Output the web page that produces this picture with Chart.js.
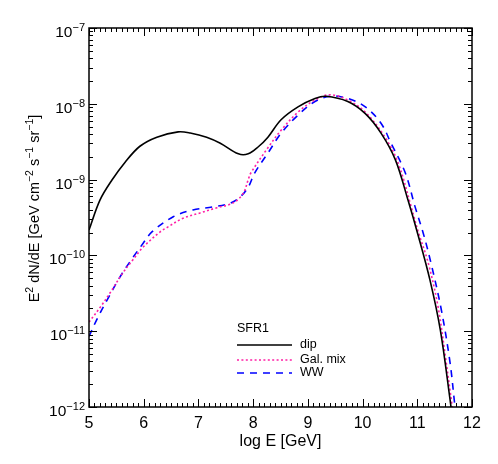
<!DOCTYPE html>
<html><head><meta charset="utf-8">
<script src="https://cdn.jsdelivr.net/npm/chart.js@4"></script>
<style>html,body{margin:0;padding:0;background:#fff}canvas{display:block}</style>
</head><body>
<canvas id="c" width="498" height="464"></canvas>
<script>
const dipX = [5.0,5.2,5.42,5.66,5.93,6.24,6.63,6.85,7.15,7.4,7.73,7.91,8.09,8.27,8.51,8.82,9.13,9.33,9.73,10.05,10.34,10.6,10.83,11.01,11.23,11.42,11.6,11.65];
const dipLog = [-9.665,-9.27,-9.005,-8.77,-8.56,-8.44,-8.37,-8.385,-8.44,-8.52,-8.66,-8.66,-8.57,-8.44,-8.21,-8.04,-7.93,-7.90,-7.97,-8.13,-8.39,-8.74,-9.27,-9.72,-10.32,-10.98,-11.91,-12.2];
const galX = [5.0,5.2,5.38,5.62,5.8,5.99,6.3,6.43,6.72,7.03,7.34,7.63,7.82,7.91,7.96,8.27,8.51,8.82,9.13,9.4,9.73,10.05,10.41,10.65,10.89,11.01,11.2,11.38,11.53,11.64,11.68];
const galLog = [-10.88,-10.69,-10.5,-10.23,-10.06,-9.89,-9.69,-9.63,-9.51,-9.44,-9.37,-9.31,-9.18,-9.0,-8.91,-8.58,-8.35,-8.11,-7.95,-7.88,-7.95,-8.11,-8.44,-8.78,-9.36,-9.67,-10.1,-10.68,-11.42,-12.0,-12.2];
const wwX = [5.0,5.14,5.33,5.57,5.8,5.99,6.15,6.54,6.9,7.27,7.58,7.76,7.91,8.03,8.27,8.51,8.82,9.13,9.42,9.73,10.05,10.34,10.52,10.78,10.96,11.11,11.25,11.44,11.6,11.69,11.73];
const wwLog = [-11.07,-10.85,-10.59,-10.28,-10.03,-9.84,-9.69,-9.49,-9.4,-9.36,-9.31,-9.23,-9.1,-8.91,-8.65,-8.39,-8.15,-7.97,-7.90,-7.93,-8.04,-8.26,-8.52,-8.91,-9.36,-9.71,-10.1,-10.72,-11.42,-12.0,-12.2];
const seriesLabels = ['dip','Gal. mix','WW'];
const legendTitle = 'SFR1';
const xTicks = [5,6,7,8,9,10,11,12];
const yTickExp = [-12,-11,-10,-9,-8,-7];
const xTitle = 'log E [GeV]';
// y title as [text, isSuperscript] pieces
const yTitleParts = [['E',0],['2',1],[' dN/dE [GeV cm',0],['\u22122',1],[' s',0],['\u22121',1],[' sr',0],['\u22121',1],[']',0]];

const pts = (xs, ls) => xs.map((x,i)=>({x:x, y:Math.pow(10, ls[i])}));
const FONT = '"Liberation Sans", Arial, sans-serif';

function drawParts(ctx, parts, x, y, size, supSize, rise, align){
  const w = parts.reduce((s,p)=>{ctx.font=(p[1]?supSize:size)+'px '+FONT; return s+ctx.measureText(p[0]).width;},0);
  let cx = align==='right' ? x - w : (align==='center' ? x - w/2 : x);
  ctx.textAlign='left'; ctx.textBaseline='alphabetic';
  parts.forEach(p=>{
    ctx.font=(p[1]?supSize:size)+'px '+FONT;
    ctx.fillText(p[0], cx, p[1] ? y - rise : y);
    cx += ctx.measureText(p[0]).width;
  });
}

const ticksPlugin = {
  id:'ticksPlugin',
  afterDraw(chart){
    const ctx = chart.ctx, a = chart.chartArea, xs = chart.scales.x, ys = chart.scales.y;
    ctx.save();
    ctx.strokeStyle = '#000'; ctx.lineWidth = 1;
    ctx.beginPath();
    for (let v = 50; v <= 120; v++) {
      const px = Math.round(xs.getPixelForValue(v/10)) + 0.5;
      const len = (v % 10 === 0) ? 8 : 4;
      ctx.moveTo(px, a.bottom); ctx.lineTo(px, a.bottom - len);
      ctx.moveTo(px, a.top); ctx.lineTo(px, a.top + len);
    }
    for (let e = -12; e <= -7; e++) {
      for (let m = 1; m <= 9; m++) {
        if (e === -7 && m > 1) break;
        const py = Math.round(ys.getPixelForValue(m * Math.pow(10, e))) + 0.5;
        const len = (m === 1) ? 8 : 4;
        ctx.moveTo(a.left, py); ctx.lineTo(a.left + len, py);
        ctx.moveTo(a.right, py); ctx.lineTo(a.right - len, py);
      }
    }
    ctx.stroke();
    ctx.lineWidth = 1.5;
    ctx.strokeRect(a.left, a.top, a.right - a.left, a.bottom - a.top);
    ctx.fillStyle = '#000';
    // y tick labels with superscript exponents
    ys.ticks.forEach(t=>{
      const py = ys.getPixelForValue(t.value);
      const ex = Math.round(Math.log10(t.value));
      drawParts(ctx, [['10',0],[String(ex).replace('-','\u2212'),1]], a.left-4, py+9, 15.5, 11, 6, 'right');
    });
    // y title
    ctx.save();
    ctx.translate(39, (a.top+a.bottom)/2 - 9);
    ctx.rotate(-Math.PI/2);
    drawParts(ctx, yTitleParts, 0, 0, 14.5, 10.5, 6, 'center');
    ctx.restore();
    // legend
    ctx.font = '12.5px ' + FONT; ctx.textBaseline = 'middle'; ctx.textAlign='left';
    ctx.fillText(legendTitle, 237, 329);
    const rows = [345, 360, 373];
    chart.data.datasets.forEach((ds, i) => {
      ctx.beginPath();
      ctx.strokeStyle = ds.borderColor; ctx.lineWidth = ds.borderWidth;
      ctx.setLineDash(ds.borderDash || []);
      ctx.moveTo(237, rows[i]); ctx.lineTo(292, rows[i]); ctx.stroke();
      ctx.setLineDash([]);
      ctx.fillText(ds.label, 300, rows[i]);
    });
    ctx.restore();
  }
};

const lineOpts = {pointRadius:0, tension:0.35, fill:false};
new Chart(document.getElementById('c'), {
  type:'line',
  data:{datasets:[
    Object.assign({label:seriesLabels[0], data:pts(dipX,dipLog), borderColor:'#000000', borderWidth:1.6}, lineOpts),
    Object.assign({label:seriesLabels[1], data:pts(galX,galLog), borderColor:'#ff1fa5', borderWidth:1.6, borderDash:[2,2.4]}, lineOpts),
    Object.assign({label:seriesLabels[2], data:pts(wwX,wwLog), borderColor:'#0000ff', borderWidth:1.6, borderDash:[7,6]}, lineOpts)
  ]},
  options:{
    responsive:false, animation:false,
    layout:{padding:{top:28, right:26, left:0, bottom:0}},
    plugins:{legend:{display:false}, tooltip:{enabled:false}},
    scales:{
      x:{type:'linear', min:5, max:12,
        afterBuildTicks(s){ s.ticks = xTicks.map(v=>({value:v})); },
        afterFit(s){ s.height = 57; },
        grid:{display:false, drawTicks:false}, border:{display:false},
        ticks:{color:'#000', font:{family:FONT, size:16}, padding:7, maxRotation:0, callback:v=>String(v)},
        title:{display:true, text:xTitle, color:'#000', font:{family:FONT, size:16}, padding:{top:0,bottom:13}}
      },
      y:{type:'logarithmic', min:1e-12, max:1e-7,
        afterBuildTicks(s){ s.ticks = yTickExp.map(e=>({value:Math.pow(10,e)})); },
        afterFit(s){ s.width = 89; },
        grid:{display:false, drawTicks:false}, border:{display:false},
        ticks:{display:false}
      }
    }
  },
  plugins:[ticksPlugin]
});
</script>
</body></html>
